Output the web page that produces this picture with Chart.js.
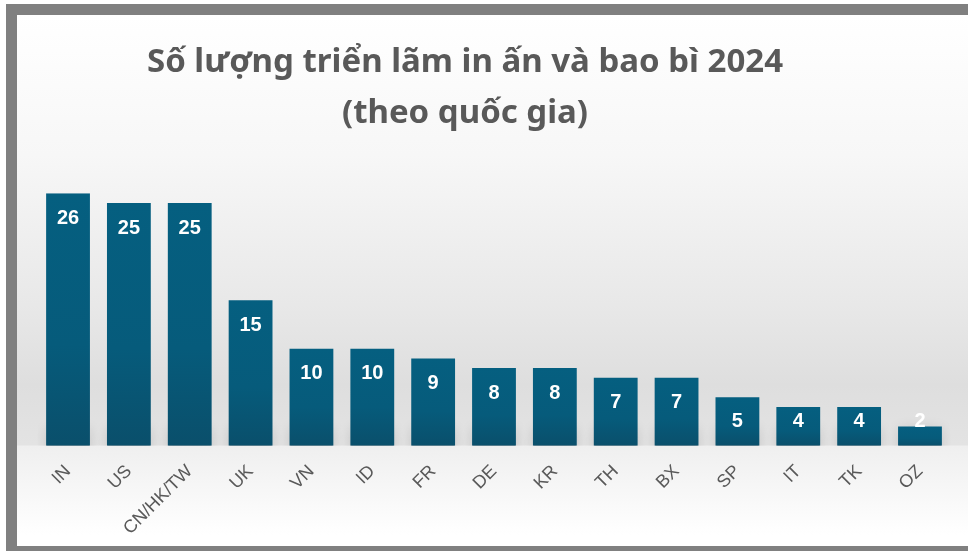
<!DOCTYPE html>
<html>
<head>
<meta charset="utf-8">
<script src="https://cdn.jsdelivr.net/npm/chart.js@4"></script>
<style>
    html, body { margin: 0; padding: 0; width: 968px; height: 551px; overflow: hidden; background: #fff; }
    #frame {
        position: absolute; left: 6px; top: 4px; width: 1000px; height: 531px;
        border: 11px solid #808080;
        background: linear-gradient(to bottom,
            #ffffff 0px, #f7f7f7 140px, #e8e8e8 290px, #dedede 370px, #e3e3e3 430px,
            #efefef 431px, #ffffff 520px);
    }
    #wrap { position: absolute; left: -40px; top: 0; width: 1010px; height: 551px; }
</style>
</head>
<body>
<div id="frame"></div>
<div id="wrap"><canvas id="chart"></canvas></div>
<script>
const chart_title = ['Số lượng triển lãm in ấn và bao bì 2024', '(theo quốc gia)'];
const countries = ['IN', 'US', 'CN/HK/TW', 'UK', 'VN', 'ID', 'FR', 'DE', 'KR', 'TH', 'BX', 'SP', 'IT', 'TK', 'OZ'];
const exhibitions = [26, 25, 25, 15, 10, 10, 9, 8, 8, 7, 7, 5, 4, 4, 2];

// gradient for each bar, from its top down to the baseline
function barColor(context) {
    const chart = context.chart;
    const area = chart.chartArea;
    if (!area || context.type !== 'data') {
        return '#065c7c';
    }
    const top = chart.scales.y.getPixelForValue(context.raw);
    const g = chart.ctx.createLinearGradient(0, top, 0, area.bottom);
    g.addColorStop(0, '#055f80');
    g.addColorStop(0.6, '#065b7b');
    g.addColorStop(1, '#0a4f6b');
    return g;
}

// soft grey shadow at the foot of the bars
const baseShadow = {
    id: 'baseShadow',
    beforeDatasetsDraw(chart) {
        const ctx = chart.ctx;
        const area = chart.chartArea;
        ctx.save();
        ctx.beginPath();
        ctx.rect(area.left, area.top, area.right - area.left, area.bottom - area.top);
        ctx.clip();
        ctx.shadowColor = 'rgba(0, 0, 0, 0.4)';
        ctx.shadowBlur = 14;
        ctx.fillStyle = 'rgba(110, 110, 110, 0.4)';
        chart.getDatasetMeta(0).data.forEach(bar => {
            const h = Math.min(16, bar.base - bar.y);
            ctx.fillRect(bar.x - bar.width / 2 + 1, bar.base - h, bar.width - 2, h + 8);
        });
        ctx.restore();
    }
};

// value labels near the top of each bar
const valueLabels = {
    id: 'valueLabels',
    afterDatasetsDraw(chart) {
        const ctx = chart.ctx;
        ctx.save();
        ctx.font = 'bold 20px "Liberation Sans", Arial, sans-serif';
        ctx.fillStyle = '#ffffff';
        ctx.textAlign = 'center';
        ctx.textBaseline = 'middle';
        chart.getDatasetMeta(0).data.forEach((bar, i) => {
            const y = Math.min(bar.y + 25, bar.base - 24);
            ctx.fillText(exhibitions[i], bar.x, y);
        });
        ctx.restore();
    }
};

const ctx = document.getElementById('chart');
new Chart(ctx, {
    type: 'bar',
    data: {
        labels: countries,
        datasets: [{
            label: 'Số lượng',
            data: exhibitions,
            backgroundColor: barColor,
            borderWidth: 0,
            categoryPercentage: 0.8,
            barPercentage: 0.9
        }]
    },
    options: {
        responsive: true,
        maintainAspectRatio: false,
        animation: false,
        layout: {
            padding: { left: 19.6, right: 19.6, top: 0, bottom: 5 }
        },
        plugins: {
            legend: { display: false },
            tooltip: { enabled: false },
            title: {
                display: true,
                text: chart_title,
                color: '#595959',
                font: { family: '"Noto Sans", sans-serif', size: 33, weight: 'bold', lineHeight: 1.55 },
                padding: { top: 37, bottom: 54 }
            }
        },
        scales: {
            x: {
                grid: { display: false },
                border: { display: false },
                ticks: {
                    color: '#595959',
                    font: { family: '"Liberation Sans", Arial, sans-serif', size: 18 },
                    minRotation: 45,
                    maxRotation: 45,
                    autoSkip: false,
                    padding: 7
                }
            },
            y: {
                min: 0,
                max: 26,
                grid: { display: false },
                border: { display: false },
                ticks: { display: false },
                afterFit: function (axis) {
                    axis.width = 58; // keeps the title a bit left of the bar centre
                }
            }
        }
    },
    plugins: [baseShadow, valueLabels]
});
</script>
</body>
</html>
